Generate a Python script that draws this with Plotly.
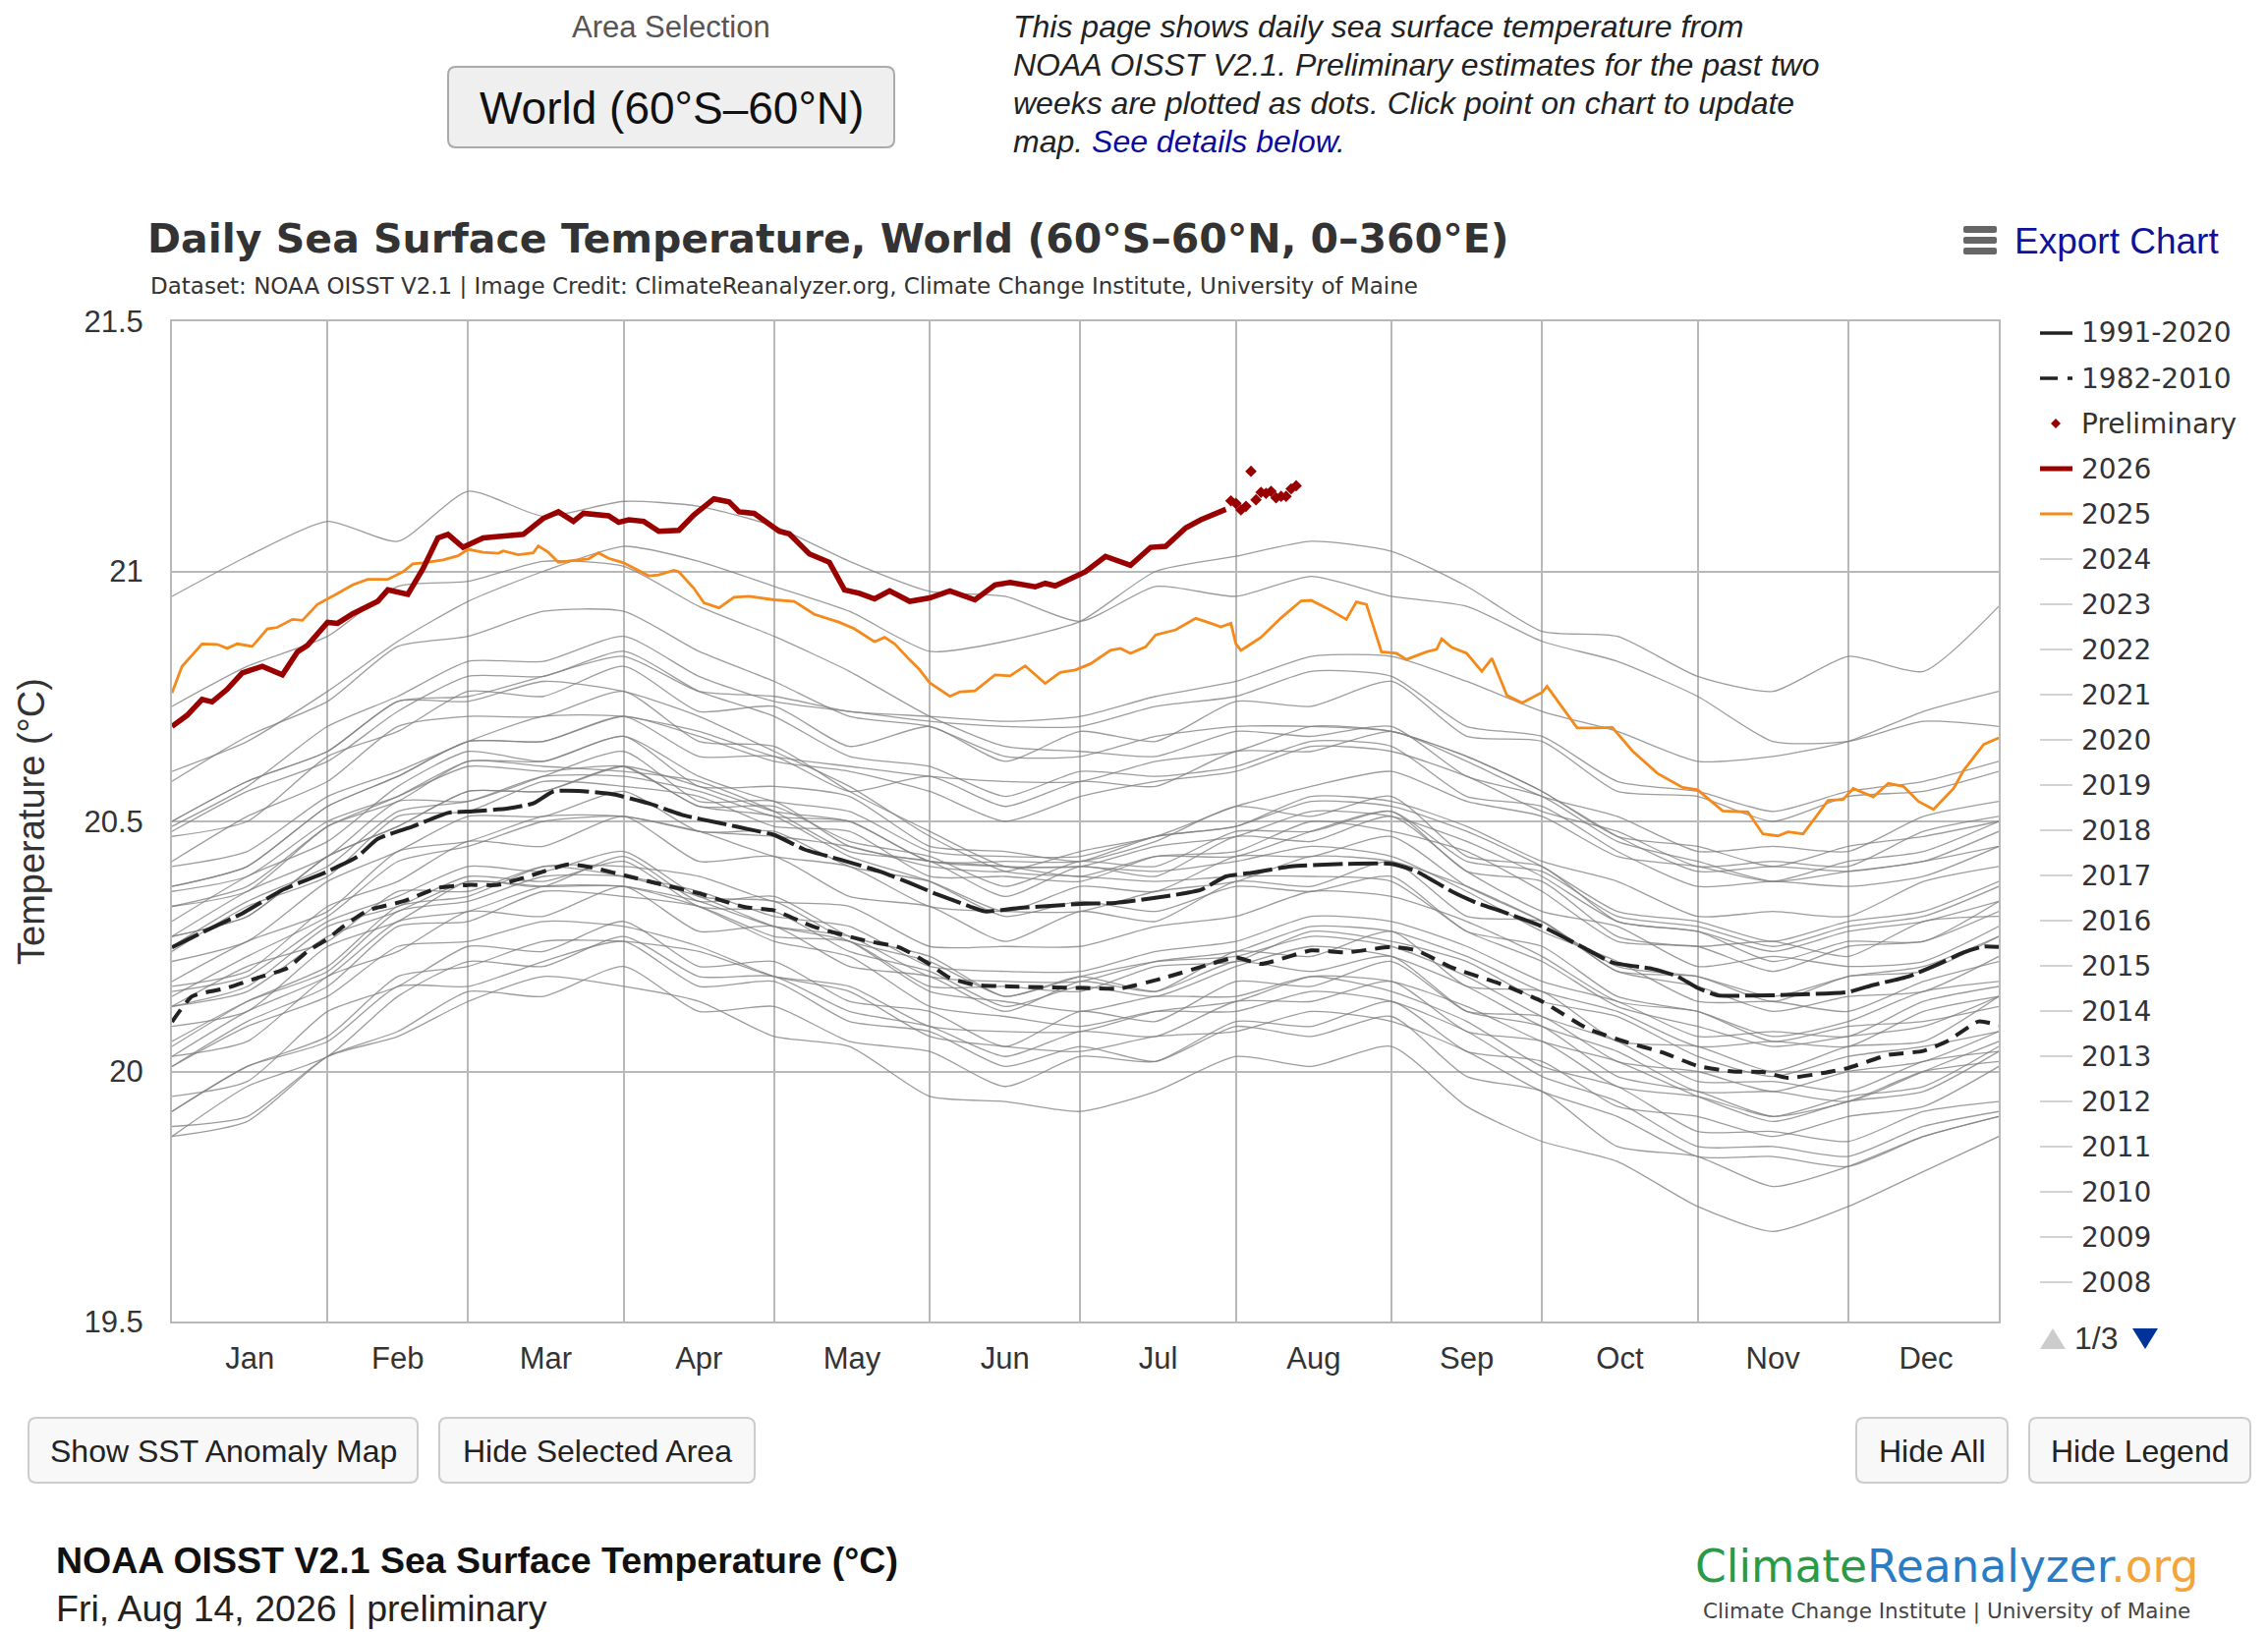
import plotly.graph_objects as go
import pandas as pd

# ---------------------------------------------------------------- data
SEMI_MONTH_DAYS = [0, 15, 31, 45, 59, 74, 90, 105, 120, 135, 151, 166, 181,
                   196, 212, 227, 243, 258, 273, 288, 304, 319, 334, 349, 364]

Y1982 = [19.95,19.98,20.12,20.17,20.25,20.24,20.30,20.21,20.22,20.14,20.12,20.05,20.12,20.10,20.18,20.17,20.22,20.12,20.11,20.02,20.00,19.96,20.00,20.02,20.08]
Y1983 = [20.13,20.21,20.26,20.36,20.36,20.41,20.39,20.35,20.29,20.26,20.16,20.14,20.12,20.15,20.15,20.19,20.16,20.10,20.01,19.97,19.88,19.88,19.86,19.92,19.94]
Y1984 = [19.92,20.01,20.06,20.17,20.17,20.22,20.26,20.17,20.18,20.10,20.08,20.01,20.05,20.02,20.09,20.07,20.11,19.99,19.96,19.85,19.83,19.77,19.81,19.87,19.91]
Y1985 = [19.89,19.91,20.03,20.07,20.14,20.19,20.17,20.14,20.07,20.05,19.95,19.94,19.92,19.96,20.03,20.01,20.05,19.93,19.86,19.82,19.73,19.68,19.73,19.80,19.87]
Y1986 = [19.87,19.97,20.03,20.15,20.22,20.21,20.27,20.19,20.19,20.12,20.09,20.03,20.08,20.07,20.14,20.14,20.18,20.08,20.06,19.97,19.95,19.91,19.95,19.97,20.05]
Y1987 = [20.05,20.14,20.21,20.33,20.35,20.41,20.41,20.39,20.34,20.33,20.25,20.25,20.25,20.29,20.31,20.36,20.35,20.30,20.23,20.14,20.12,20.06,20.09,20.10,20.13]
Y1988 = [20.13,20.16,20.27,20.32,20.38,20.37,20.37,20.33,20.26,20.23,20.13,20.11,20.09,20.12,20.12,20.16,20.14,20.08,19.99,19.94,19.85,19.85,19.83,19.89,19.92]
Y1989 = [19.87,19.90,20.03,20.08,20.16,20.15,20.21,20.12,20.13,20.06,20.04,19.97,20.03,20.02,20.10,20.09,20.14,20.04,20.02,19.93,19.91,19.87,19.91,19.93,20.01]
Y1990 = [20.01,20.10,20.17,20.29,20.30,20.36,20.35,20.33,20.27,20.26,20.17,20.17,20.16,20.21,20.22,20.28,20.26,20.22,20.14,20.11,20.03,19.99,20.03,20.05,20.08]
Y1991 = [20.09,20.12,20.25,20.30,20.38,20.37,20.43,20.34,20.35,20.27,20.23,20.15,20.19,20.16,20.22,20.20,20.23,20.12,20.09,19.99,19.96,19.91,19.94,20.00,20.02]
Y1992 = [20.01,20.09,20.15,20.25,20.26,20.30,20.29,20.25,20.19,20.16,20.07,20.05,20.04,20.07,20.08,20.12,20.10,20.04,19.96,19.91,19.83,19.83,19.81,19.87,19.91]
Y1993 = [19.92,20.01,20.07,20.19,20.21,20.26,20.26,20.24,20.19,20.17,20.09,20.08,20.08,20.12,20.14,20.19,20.18,20.13,20.06,20.02,19.95,19.90,19.94,19.96,20.04]
Y1994 = [20.03,20.12,20.19,20.30,20.32,20.37,20.37,20.34,20.29,20.27,20.19,20.18,20.18,20.22,20.24,20.29,20.28,20.23,20.16,20.12,20.05,20.06,20.05,20.12,20.15]
Y1995 = [20.16,20.19,20.30,20.35,20.41,20.40,20.44,20.35,20.34,20.26,20.22,20.15,20.19,20.22,20.23,20.27,20.25,20.19,20.11,20.06,19.98,19.98,19.96,20.02,20.04]
Y1996 = [20.03,20.06,20.19,20.24,20.32,20.31,20.37,20.28,20.29,20.21,20.19,20.12,20.18,20.16,20.24,20.23,20.28,20.17,20.16,20.06,20.05,20.00,20.05,20.06,20.15]
Y1997 = [20.15,20.23,20.31,20.42,20.45,20.50,20.51,20.48,20.47,20.45,20.41,20.40,20.44,20.47,20.53,20.57,20.60,20.54,20.51,20.43,20.41,20.38,20.42,20.44,20.50]
Y1998 = [20.50,20.58,20.64,20.74,20.74,20.78,20.76,20.71,20.64,20.57,20.47,20.40,20.39,20.38,20.39,20.39,20.38,20.28,20.22,20.13,20.09,20.05,20.07,20.09,20.15]
Y1999 = [20.13,20.17,20.29,20.33,20.39,20.38,20.42,20.33,20.32,20.24,20.20,20.13,20.17,20.15,20.21,20.25,20.23,20.17,20.09,20.04,19.96,19.96,19.94,20.00,20.06]
Y2000 = [20.06,20.14,20.20,20.32,20.34,20.39,20.39,20.36,20.31,20.29,20.21,20.20,20.20,20.24,20.26,20.31,20.30,20.25,20.18,20.14,20.07,20.08,20.07,20.14,20.17]
Y2001 = [20.18,20.26,20.32,20.44,20.46,20.51,20.51,20.48,20.43,20.41,20.33,20.32,20.32,20.36,20.38,20.43,20.42,20.37,20.30,20.20,20.17,20.12,20.15,20.16,20.23]
Y2002 = [20.24,20.33,20.39,20.51,20.52,20.58,20.57,20.55,20.49,20.48,20.39,20.39,20.38,20.43,20.44,20.50,20.48,20.44,20.36,20.26,20.25,20.20,20.25,20.26,20.32]
Y2003 = [20.33,20.36,20.49,20.54,20.62,20.61,20.60,20.58,20.52,20.44,20.42,20.35,20.41,20.39,20.47,20.46,20.51,20.40,20.32,20.29,20.21,20.23,20.21,20.22,20.29]
Y2004 = [20.27,20.36,20.43,20.54,20.54,20.59,20.64,20.54,20.54,20.45,20.42,20.41,20.39,20.43,20.43,20.48,20.52,20.40,20.38,20.27,20.25,20.26,20.23,20.30,20.31]
Y2005 = [20.30,20.39,20.46,20.57,20.64,20.62,20.67,20.57,20.57,20.55,20.45,20.44,20.42,20.46,20.53,20.51,20.55,20.43,20.41,20.30,20.28,20.22,20.26,20.26,20.34]
Y2006 = [20.27,20.31,20.43,20.49,20.56,20.56,20.61,20.53,20.53,20.46,20.43,20.37,20.42,20.41,20.48,20.48,20.52,20.42,20.40,20.31,20.29,20.25,20.29,20.31,20.37]
Y2007 = [20.36,20.39,20.50,20.55,20.61,20.60,20.61,20.53,20.51,20.43,20.38,20.31,20.34,20.32,20.37,20.36,20.39,20.28,20.25,20.15,20.12,20.07,20.10,20.16,20.18]
Y2008 = [20.17,20.20,20.33,20.38,20.46,20.45,20.51,20.42,20.43,20.35,20.33,20.26,20.32,20.30,20.38,20.37,20.42,20.31,20.30,20.20,20.19,20.14,20.19,20.20,20.27]
Y2009 = [20.25,20.34,20.41,20.52,20.54,20.59,20.59,20.56,20.51,20.50,20.42,20.42,20.42,20.47,20.49,20.55,20.54,20.49,20.42,20.38,20.31,20.32,20.31,20.38,20.41]
Y2010 = [20.42,20.51,20.58,20.69,20.71,20.71,20.76,20.66,20.65,20.56,20.48,20.41,20.41,20.40,20.42,20.45,20.43,20.36,20.28,20.22,20.14,20.14,20.12,20.18,20.22]
Y2011 = [20.22,20.26,20.38,20.44,20.51,20.51,20.56,20.48,20.48,20.41,20.38,20.32,20.37,20.36,20.43,20.43,20.47,20.37,20.30,20.21,20.19,20.15,20.19,20.21,20.27]
Y2012 = [20.27,20.31,20.43,20.49,20.56,20.56,20.61,20.57,20.52,20.50,20.42,20.41,20.41,20.45,20.47,20.52,20.51,20.46,20.39,20.30,20.28,20.24,20.28,20.30,20.34]
Y2013 = [20.33,20.37,20.49,20.55,20.62,20.62,20.67,20.59,20.54,20.52,20.44,20.43,20.43,20.47,20.49,20.54,20.53,20.48,20.41,20.32,20.30,20.26,20.30,20.32,20.38]
Y2014 = [20.37,20.41,20.53,20.59,20.66,20.66,20.71,20.67,20.62,20.60,20.56,20.50,20.55,20.58,20.60,20.65,20.64,20.59,20.52,20.48,20.41,20.42,20.41,20.48,20.51]
Y2015 = [20.50,20.58,20.64,20.74,20.75,20.79,20.83,20.76,20.75,20.72,20.71,20.70,20.71,20.75,20.78,20.83,20.83,20.78,20.72,20.68,20.62,20.63,20.66,20.72,20.76]
Y2016 = [20.73,20.81,20.87,20.97,20.98,21.02,21.01,20.93,20.87,20.80,20.71,20.65,20.64,20.63,20.68,20.67,20.69,20.59,20.55,20.46,20.42,20.38,20.40,20.42,20.48]
Y2017 = [20.48,20.56,20.62,20.72,20.79,20.79,20.84,20.76,20.71,20.63,20.61,20.55,20.60,20.59,20.61,20.66,20.65,20.55,20.53,20.44,20.37,20.38,20.37,20.39,20.45]
Y2018 = [20.37,20.41,20.53,20.59,20.66,20.66,20.71,20.63,20.63,20.56,20.59,20.53,20.58,20.57,20.64,20.64,20.68,20.62,20.55,20.51,20.44,20.45,20.44,20.51,20.54]
Y2019 = [20.49,20.57,20.69,20.75,20.82,20.82,20.87,20.79,20.74,20.72,20.70,20.69,20.69,20.73,20.75,20.80,20.79,20.69,20.67,20.58,20.56,20.52,20.56,20.58,20.62]
Y2020 = [20.58,20.67,20.74,20.85,20.87,20.92,20.92,20.84,20.78,20.71,20.69,20.63,20.63,20.67,20.69,20.69,20.68,20.63,20.56,20.47,20.40,20.41,20.40,20.42,20.45]
Y2021 = [20.41,20.44,20.55,20.60,20.66,20.71,20.71,20.68,20.63,20.61,20.59,20.58,20.58,20.62,20.64,20.69,20.68,20.63,20.56,20.47,20.45,20.41,20.45,20.47,20.50]
Y2022 = [20.47,20.50,20.63,20.68,20.76,20.75,20.81,20.72,20.73,20.65,20.69,20.62,20.68,20.66,20.74,20.73,20.78,20.67,20.66,20.56,20.55,20.50,20.55,20.56,20.60]
Y2023 = [20.60,20.66,20.76,20.86,20.94,21.00,21.05,21.02,20.97,20.92,20.84,20.86,20.90,21.00,21.03,21.06,21.04,20.97,20.88,20.87,20.79,20.76,20.83,20.80,20.93]
Y2024 = [20.95,21.03,21.10,21.06,21.16,21.11,21.14,21.13,21.09,21.02,20.96,20.95,20.90,20.97,20.95,20.99,20.95,20.93,20.86,20.82,20.75,20.66,20.66,20.70,20.69]

GRAY_SERIES = {
    1982: Y1982, 1983: Y1983, 1984: Y1984, 1985: Y1985, 1986: Y1986, 1987: Y1987,
    1988: Y1988, 1989: Y1989, 1990: Y1990, 1991: Y1991, 1992: Y1992, 1993: Y1993,
    1994: Y1994, 1995: Y1995, 1996: Y1996, 1997: Y1997, 1998: Y1998, 1999: Y1999,
    2000: Y2000, 2001: Y2001, 2002: Y2002, 2003: Y2003, 2004: Y2004, 2005: Y2005,
    2006: Y2006, 2007: Y2007, 2008: Y2008, 2009: Y2009, 2010: Y2010, 2011: Y2011,
    2012: Y2012, 2013: Y2013, 2014: Y2014, 2015: Y2015, 2016: Y2016, 2017: Y2017,
    2018: Y2018, 2019: Y2019, 2020: Y2020, 2021: Y2021, 2022: Y2022, 2023: Y2023,
    2024: Y2024,
}

CLIM_9120_DAYS = [0, 6, 14, 22, 31, 37, 41, 48, 55, 60, 67, 72, 76, 81, 88, 95, 102, 109,
                  116, 120, 126, 133, 141, 147, 152, 159, 162, 169, 181, 188, 198, 205,
                  210, 215, 223, 234, 243, 248, 255, 260, 265, 273, 281, 287, 295, 300,
                  304, 308, 315, 322, 334, 339, 346, 352, 357, 361, 364]
CLIM_9120_VALS = [20.248, 20.278, 20.316, 20.363, 20.400, 20.430, 20.465, 20.490, 20.517,
                  20.520, 20.526, 20.536, 20.560, 20.561, 20.554, 20.536, 20.512, 20.497,
                  20.482, 20.473, 20.444, 20.424, 20.400, 20.377, 20.356, 20.330, 20.320,
                  20.327, 20.335, 20.337, 20.350, 20.363, 20.390, 20.397, 20.410, 20.415,
                  20.415, 20.400, 20.360, 20.337, 20.320, 20.290, 20.249, 20.218, 20.205,
                  20.190, 20.167, 20.152, 20.152, 20.153, 20.159, 20.173, 20.190, 20.215,
                  20.238, 20.250, 20.249]

CLIM_8210_DAYS = [0, 4, 11, 17, 23, 27, 31, 34, 39, 46, 53, 59, 65, 71, 79, 84, 91, 98,
                  105, 114, 120, 128, 138, 145, 151, 155, 160, 167, 181, 189, 198, 207,
                  212, 217, 227, 234, 243, 248, 255, 265, 273, 282, 290, 297, 304, 311,
                  317, 322, 329, 334, 342, 349, 354, 360, 364]
CLIM_8210_VALS = [20.099, 20.150, 20.167, 20.187, 20.207, 20.240, 20.265, 20.289, 20.322,
                  20.340, 20.367, 20.373, 20.373, 20.390, 20.414, 20.407, 20.390, 20.373,
                  20.356, 20.329, 20.322, 20.289, 20.262, 20.248, 20.214, 20.187, 20.173,
                  20.170, 20.167, 20.166, 20.188, 20.215, 20.228, 20.215, 20.242, 20.238,
                  20.249, 20.242, 20.208, 20.174, 20.140, 20.086, 20.058, 20.038, 20.011,
                  20.000, 19.999, 19.987, 19.997, 20.007, 20.033, 20.041, 20.062, 20.100,
                  20.092]

Y2025_DAYS = [0, 2, 6, 9, 11, 13, 16, 19, 21, 24, 26, 29, 33, 36, 39, 43, 46, 48, 50, 54,
              57, 59, 62, 65, 66, 69, 72, 73, 75, 77, 80, 83, 85, 87, 90, 92, 95, 97, 100,
              101, 104, 106, 109, 112, 115, 120, 124, 128, 133, 136, 140, 142, 144, 147,
              149, 151, 155, 157, 160, 164, 167, 170, 174, 177, 180, 183, 187, 189, 191,
              194, 196, 200, 204, 207, 209, 211, 212, 213, 217, 221, 225, 227, 230, 234,
              236, 238, 239, 241, 244, 246, 250, 252, 253, 255, 258, 261, 263, 266, 269,
              273, 274, 280, 283, 287, 291, 296, 301, 304, 309, 314, 317, 320, 322, 325,
              330, 333, 335, 339, 342, 345, 348, 351, 355, 357, 361, 364]
Y2025_VALS = [20.757, 20.810, 20.855, 20.854, 20.846, 20.855, 20.850, 20.885, 20.888,
              20.904, 20.902, 20.934, 20.956, 20.973, 20.984, 20.984, 20.999, 21.015,
              21.017, 21.023, 21.031, 21.044, 21.038, 21.036, 21.041, 21.033, 21.037,
              21.051, 21.038, 21.018, 21.022, 21.025, 21.037, 21.026, 21.017, 21.007,
              20.991, 20.993, 21.002, 20.999, 20.966, 20.937, 20.927, 20.948, 20.950,
              20.943, 20.940, 20.914, 20.898, 20.885, 20.859, 20.868, 20.855, 20.823,
              20.803, 20.777, 20.750, 20.759, 20.761, 20.793, 20.791, 20.811, 20.776,
              20.798, 20.803, 20.815, 20.842, 20.846, 20.836, 20.849, 20.873, 20.883,
              20.906, 20.896, 20.889, 20.896, 20.855, 20.842, 20.868, 20.907, 20.941,
              20.942, 20.927, 20.904, 20.939, 20.934, 20.901, 20.839, 20.836, 20.824,
              20.839, 20.844, 20.865, 20.848, 20.836, 20.800, 20.826, 20.752, 20.737,
              20.758, 20.770, 20.687, 20.687, 20.688, 20.641, 20.596, 20.568, 20.563,
              20.521, 20.519, 20.475, 20.471, 20.479, 20.475, 20.542, 20.544, 20.566,
              20.549, 20.576, 20.570, 20.540, 20.524, 20.566, 20.602, 20.654, 20.667]

Y2026_DAYS = [0, 3, 6, 8, 11, 14, 18, 22, 25, 27, 31, 33, 36, 41, 43, 47, 50, 53, 55, 58,
              62, 67, 70, 74, 77, 80, 82, 87, 89, 91, 94, 97, 101, 104, 108, 111, 113, 116,
              119, 121, 123, 127, 131, 134, 137, 140, 143, 147, 151, 155, 160, 164, 167,
              172, 174, 176, 182, 186, 191, 195, 198, 202, 205, 207, 210]
Y2026_VALS = [20.690, 20.712, 20.744, 20.739, 20.764, 20.797, 20.810, 20.793, 20.839,
              20.852, 20.898, 20.896, 20.915, 20.940, 20.963, 20.954, 21.005, 21.067,
              21.074, 21.048, 21.067, 21.070, 21.074, 21.106, 21.119, 21.100, 21.116,
              21.111, 21.098, 21.103, 21.100, 21.080, 21.082, 21.113, 21.145, 21.139,
              21.119, 21.116, 21.093, 21.080, 21.075, 21.035, 21.018, 20.963, 20.956,
              20.945, 20.961, 20.940, 20.947, 20.961, 20.943, 20.973, 20.978, 20.969,
              20.976, 20.971, 20.999, 21.030, 21.012, 21.048, 21.050, 21.087, 21.103,
              21.111, 21.124]

PRELIM_DAYS = [211, 212, 213, 214, 215, 216, 217, 218, 219, 220, 221, 222, 223, 224]
PRELIM_VALS = [21.141, 21.136, 21.123, 21.130, 21.200, 21.143, 21.158, 21.156, 21.160,
               21.147, 21.150, 21.150, 21.165, 21.171]

MONTH_LABELS = ["Jan", "Feb", "Mar", "Apr", "May", "Jun",
                "Jul", "Aug", "Sep", "Oct", "Nov", "Dec"]
Y_TICKS = [19.5, 20, 20.5, 21, 21.5]
Y_TICK_TEXT = ["19.5", "20", "20.5", "21", "21.5"]
LEGEND_LABELS = ["1991-2020", "1982-2010", "Preliminary", "2026", "2025",
                 "2024", "2023", "2022", "2021", "2020", "2019", "2018", "2017",
                 "2016", "2015", "2014", "2013", "2012", "2011", "2010", "2009", "2008"]

# ---------------------------------------------------------------- helpers
BASE = pd.Timestamp("2026-01-01")


def to_dates(days):
    return [(BASE + pd.Timedelta(days=d)).strftime("%Y-%m-%d") for d in days]


W, H = 2308, 1661
L, T, R, B = 175, 327, 2034, 1345
PW, PH = R - L, B - T


def px(x):
    return (x - L) / PW


def py(y):
    return (B - y) / PH


GRID = "#b8b8b8"
DARKRED = "#990000"
ORANGE = "#f5891a"
CLIMC = "#222222"
GRAYC = "rgba(128,128,128,0.78)"

shapes = []
annotations = []


def text(x, y, s, size, color="#333333", family="Liberation Sans", anchor="left", angle=0):
    annotations.append(dict(x=px(x), y=py(y), xref="paper", yref="paper", text=s,
                            showarrow=False, xanchor=anchor, yanchor="middle",
                            textangle=angle, borderpad=0,
                            font=dict(size=size, color=color, family=family)))


def rrect(x0, y0, x1, y1, r, fill, line, lw=2):
    p = (f"M {px(x0 + r)},{py(y0)} L {px(x1 - r)},{py(y0)} "
         f"Q {px(x1)},{py(y0)} {px(x1)},{py(y0 + r)} L {px(x1)},{py(y1 - r)} "
         f"Q {px(x1)},{py(y1)} {px(x1 - r)},{py(y1)} L {px(x0 + r)},{py(y1)} "
         f"Q {px(x0)},{py(y1)} {px(x0)},{py(y1 - r)} L {px(x0)},{py(y0 + r)} "
         f"Q {px(x0)},{py(y0)} {px(x0 + r)},{py(y0)} Z")
    shapes.append(dict(type="path", xref="paper", yref="paper", path=p,
                       fillcolor=fill, line=dict(color=line, width=lw), layer="above"))


def hline(x0, x1, y, color, width, dash="solid"):
    shapes.append(dict(type="line", xref="paper", yref="paper", x0=px(x0), x1=px(x1),
                       y0=py(y), y1=py(y), line=dict(color=color, width=width, dash=dash),
                       layer="above"))


def poly(pts, color):
    p = "M " + " L ".join(f"{px(a)},{py(b)}" for a, b in pts) + " Z"
    shapes.append(dict(type="path", xref="paper", yref="paper", path=p,
                       fillcolor=color, line=dict(color=color, width=0), layer="above"))


# ---------------------------------------------------------------- traces
fig = go.Figure()

for yr in sorted(GRAY_SERIES):
    fig.add_trace(go.Scatter(x=to_dates(SEMI_MONTH_DAYS), y=GRAY_SERIES[yr], mode="lines",
                             name=str(yr), line=dict(color=GRAYC, width=1.3,
                                                     shape="spline", smoothing=0.6),
                             hoverinfo="skip", showlegend=False))

fig.add_trace(go.Scatter(x=to_dates(CLIM_8210_DAYS), y=CLIM_8210_VALS, mode="lines",
                         name="1982-2010",
                         line=dict(color=CLIMC, width=4, dash="15px,9px", shape="spline",
                                   smoothing=0.5), showlegend=False))
fig.add_trace(go.Scatter(x=to_dates(CLIM_9120_DAYS), y=CLIM_9120_VALS, mode="lines",
                         name="1991-2020",
                         line=dict(color=CLIMC, width=4, dash="30px,6px", shape="spline",
                                   smoothing=0.5), showlegend=False))
fig.add_trace(go.Scatter(x=to_dates(Y2025_DAYS), y=Y2025_VALS, mode="lines", name="2025",
                         line=dict(color=ORANGE, width=2.8), showlegend=False))
fig.add_trace(go.Scatter(x=to_dates(Y2026_DAYS), y=Y2026_VALS, mode="lines", name="2026",
                         line=dict(color=DARKRED, width=5.5), showlegend=False))
fig.add_trace(go.Scatter(x=to_dates(PRELIM_DAYS), y=PRELIM_VALS, mode="markers",
                         name="Preliminary",
                         marker=dict(symbol="diamond", size=9, color=DARKRED),
                         showlegend=False))

# ---------------------------------------------------------------- axes
month_starts = pd.date_range("2026-01-01", periods=13, freq="MS")
month_mids = [(month_starts[i] + (month_starts[i + 1] - month_starts[i]) / 2)
              .strftime("%Y-%m-%d %H:%M") for i in range(12)]

fig.update_xaxes(type="date", range=["2026-01-01", "2026-12-31"],
                 tickmode="array", tickvals=month_mids, ticktext=MONTH_LABELS,
                 showgrid=False, ticks="",
                 minor=dict(dtick="M1", tick0="2026-01-01", showgrid=True,
                            gridcolor=GRID, gridwidth=2, ticks=""),
                 showline=True, mirror=True, linecolor=GRID, linewidth=2,
                 zeroline=False, ticklabelstandoff=9,
                 tickfont=dict(size=31, color="#333333", family="Liberation Sans"))
fig.update_yaxes(range=[19.5, 21.5], tickmode="array", tickvals=Y_TICKS,
                 ticktext=Y_TICK_TEXT, showgrid=True, gridcolor=GRID, gridwidth=2,
                 showline=True, mirror=True, linecolor=GRID, linewidth=2,
                 zeroline=False, ticks="", ticklabelstandoff=21,
                 tickfont=dict(size=31, color="#333333", family="Liberation Sans"))

# ---------------------------------------------------------------- page decorations
# header
text(683, 27, "Area Selection", 31, color="#555555", anchor="center")
rrect(456, 68, 910, 150, 8, "#efefef", "#aaaaaa")
text(683, 110, "World (60°S–60°N)", 46, color="#111111", anchor="center")
P_LINES = ["This page shows daily sea surface temperature from",
           "NOAA OISST V2.1. Preliminary estimates for the past two",
           "weeks are plotted as dots. Click point on chart to update",
           "map. <span style='color:#0a0a9e'>See details below</span>."]
for i, line in enumerate(P_LINES):
    text(1030, 27 + 39 * i, "<i>" + line + "</i>", 32, color="#222222")

text(149, 243, "<b>Daily Sea Surface Temperature, World (60°S–60°N, 0–360°E)</b>", 41,
     color="#333333", family="DejaVu Sans")
text(152, 291, "Dataset: NOAA OISST V2.1 | Image Credit: ClimateReanalyzer.org, "
     "Climate Change Institute, University of Maine", 23, color="#333333",
     family="DejaVu Sans")

# export chart
for yb in (230, 241, 252):
    rrect(1998, yb, 2032, yb + 7, 2, "#666666", "#666666", lw=0)
text(2049, 246, "Export Chart", 37, color="#11119a")

# y-axis title
text(32, 836, "Temperature (°C)", 38, color="#333333", anchor="center", angle=-90)

# legend
for i, lab in enumerate(LEGEND_LABELS):
    yy = 339 + 46 * i
    if lab == "1991-2020":
        hline(2076, 2109, yy, CLIMC, 3.5)
    elif lab == "1982-2010":
        hline(2076, 2109, yy, CLIMC, 3.5, dash="18px,10px")
    elif lab == "Preliminary":
        poly([(2092, yy - 5), (2097, yy), (2092, yy + 5), (2087, yy)], DARKRED)
    elif lab == "2026":
        hline(2076, 2109, yy, DARKRED, 5)
    elif lab == "2025":
        hline(2076, 2109, yy, ORANGE, 3)
    else:
        hline(2076, 2109, yy, "#c4c4c4", 1.6)
    text(2117, yy, lab, 28, color="#333333", family="DejaVu Sans")

# legend pager
poly([(2076, 1373), (2102, 1373), (2089, 1352)], "#cccccc")
text(2133, 1362, "1/3", 32, color="#333333", anchor="center")
poly([(2170, 1352), (2196, 1352), (2183, 1373)], "#003399")

# buttons under chart
BUTTONS = [("Show SST Anomaly Map", 29, 425), ("Hide Selected Area", 447, 768),
           ("Hide All", 1889, 2043), ("Hide Legend", 2065, 2290)]
for lab, x0, x1 in BUTTONS:
    rrect(x0, 1443, x1, 1509, 8, "#f8f8f8", "#cccccc")
    text((x0 + x1) / 2, 1477, lab, 32, color="#222222", anchor="center")

# footer
text(56, 1588, "<b>NOAA OISST V2.1 Sea Surface Temperature (°C)</b>", 37.5, color="#111111")
text(56, 1637, "Fri, Aug 14, 2026 | preliminary", 37.5, color="#222222")
text(1981, 1594, "<span style='color:#2b9a47'>Climate</span>"
     "<span style='color:#2a7dc4'>Reanalyzer</span>"
     "<span style='color:#f3a53a'>.org</span>", 45.5, anchor="center", family="DejaVu Sans")
text(1981, 1640, "Climate Change Institute | University of Maine", 21.5, color="#444444",
     anchor="center", family="DejaVu Sans")

fig.update_layout(width=W, height=H, margin=dict(l=L, r=W - R, t=T, b=H - B),
                  paper_bgcolor="white", plot_bgcolor="white", showlegend=False,
                  shapes=shapes, annotations=annotations,
                  font=dict(family="Liberation Sans", color="#333333"))

fig.write_html("out.html", config={"displayModeBar": False},
               post_script="document.body.style.margin='0';"
                           "document.body.style.overflow='hidden';")
